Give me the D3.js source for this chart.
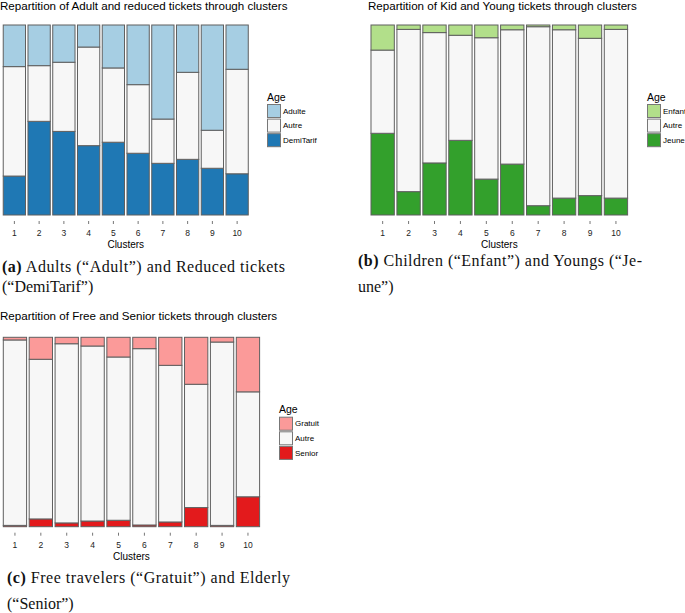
<!DOCTYPE html>
<html>
<head>
<meta charset="utf-8">
<script src="https://cdn.jsdelivr.net/npm/d3@7"></script>
<style>
  body { margin: 0; background: #fff; }
  svg { display: block; }
</style>
</head>
<body>
<svg id="chart" width="685" height="613"></svg>
<script>
(() => {

  const clusters = ["1", "2", "3", "4", "5", "6", "7", "8", "9", "10"]

  // shares (top / middle / bottom of each bar)
  const adulte    = [0.219, 0.214, 0.196, 0.116, 0.226, 0.314, 0.495, 0.249, 0.554, 0.233]
  const autreA    = [0.576, 0.293, 0.364, 0.519, 0.391, 0.361, 0.233, 0.458, 0.200, 0.550]
  const demiTarif = [0.205, 0.493, 0.440, 0.365, 0.383, 0.325, 0.272, 0.293, 0.246, 0.217]

  const enfant = [0.132, 0.023, 0.040, 0.054, 0.067, 0.025, 0.009, 0.025, 0.070, 0.023]
  const autreB = [0.438, 0.854, 0.686, 0.553, 0.744, 0.707, 0.942, 0.886, 0.828, 0.888]
  const jeune  = [0.430, 0.123, 0.274, 0.393, 0.189, 0.268, 0.049, 0.089, 0.102, 0.089]

  const gratuit = [0.014, 0.116, 0.034, 0.046, 0.104, 0.060, 0.148, 0.248, 0.025, 0.288]
  const autreC  = [0.979, 0.843, 0.946, 0.924, 0.862, 0.931, 0.827, 0.651, 0.968, 0.554]
  const senior  = [0.007, 0.041, 0.020, 0.030, 0.034, 0.009, 0.025, 0.101, 0.007, 0.158]

  const svg = d3.select('#chart')

  const panels = [
    {
      title: "Repartition of Adult and reduced tickets through clusters",
      keys: ["Adulte", "Autre", "DemiTarif"],
      values: [adulte, autreA, demiTarif],
      colors: ["#a6cee3", "#f7f7f7", "#1f78b4"],
      x0: 2.0, x1: 249.5, top: 25, bottom: 215, titleX: 0, titleY: 10,
      legX: 267, legY: 104,
      caption: [["(a)", " Adults (“Adult”) and Reduced tickets"], ["", "(“DemiTarif”)"]],
      capX: 2, capY: [272, 292], capW: 283
    },
    {
      title: "Repartition of Kid and Young tickets through clusters",
      keys: ["Enfant", "Autre", "Jeune"],
      values: [enfant, autreB, jeune],
      colors: ["#b2df8a", "#f7f7f7", "#33a02c"],
      x0: 369.7, x1: 628.9, top: 25, bottom: 215, titleX: 368, titleY: 10,
      legX: 647, legY: 104,
      caption: [["(b)", " Children (“Enfant”) and Youngs (“Je-"], ["", "une”)"]],
      capX: 358, capY: [266, 292], capW: 284
    },
    {
      title: "Repartition of Free and Senior tickets through clusters",
      keys: ["Gratuit", "Autre", "Senior"],
      values: [gratuit, autreC, senior],
      colors: ["#fb9a99", "#f7f7f7", "#e31a1c"],
      x0: 2.0, x1: 260.9, top: 337.3, bottom: 526.7, titleX: 0, titleY: 320,
      legX: 279, legY: 416.7,
      caption: [["(c)", " Free travelers (“Gratuit”) and Elderly"], ["", "(“Senior”)"]],
      capX: 7, capY: [583, 609], capW: 283
    }
  ]

  panels.forEach(p => {
    const g = svg.append("g")

    const rows = clusters.map((c, i) => {
      const row = { cluster: c }
      p.keys.forEach((k, j) => { row[k] = p.values[j][i] })
      return row
    })

    // stack from the bottom: last key sits at the bottom
    const stackKeys = p.keys.slice().reverse()
    const series = d3.stack().keys(stackKeys).offset(d3.stackOffsetExpand)(rows)
    const color = d3.scaleOrdinal().domain(p.keys).range(p.colors)

    const x = d3.scaleBand().domain(clusters).range([p.x0, p.x1])
      .paddingInner(0.1).paddingOuter(0.05)
    const y = d3.scaleLinear().domain([0, 1]).range([p.bottom, p.top])

    g.append("text")
      .attr("x", p.titleX).attr("y", p.titleY)
      .style("font", "11.6px 'Liberation Sans', Arial, sans-serif")
      .attr("fill", "#000")
      .text(p.title)

    g.append("g").selectAll("g")
      .data(series)
      .join("g")
      .attr("fill", d => color(d.key))
      .selectAll("rect")
      .data(d => d)
      .join("rect")
      .attr("x", d => x(d.data.cluster))
      .attr("y", d => y(d[1]))
      .attr("width", x.bandwidth())
      .attr("height", d => y(d[0]) - y(d[1]))
      .attr("stroke", "#5f5f5f")
      .attr("stroke-width", 1)

    const axis = g.append("g")
      .attr("transform", `translate(0,${p.bottom + 6})`)
      .call(d3.axisBottom(x).tickSize(3).tickPadding(6))
    axis.select(".domain").remove()
    axis.selectAll(".tick line").attr("stroke", "#777")
    axis.selectAll(".tick text")
      .style("font", "8.5px 'Liberation Sans', Arial, sans-serif")
      .attr("fill", "#222")

    g.append("text")
      .attr("x", (p.x0 + p.x1) / 2).attr("y", p.bottom + 33)
      .attr("text-anchor", "middle")
      .style("font", "10px 'Liberation Sans', Arial, sans-serif")
      .text("Clusters")

    // legend
    const leg = g.append("g").attr("transform", `translate(${p.legX},${p.legY})`)
    leg.append("text")
      .attr("x", 0).attr("y", -3.5)
      .style("font", "10.5px 'Liberation Sans', Arial, sans-serif")
      .text("Age")
    const item = leg.selectAll("g.item")
      .data(p.keys)
      .join("g")
      .attr("class", "item")
      .attr("transform", (d, i) => `translate(0,${i * 14.6})`)
    item.append("rect")
      .attr("x", 0.5).attr("y", 0.5)
      .attr("width", 13).attr("height", 13)
      .attr("fill", d => color(d))
      .attr("stroke", "#777")
    item.append("text")
      .attr("x", 16).attr("y", 7).attr("dy", "0.35em")
      .style("font", "8px 'Liberation Sans', Arial, sans-serif")
      .text(d => d)

    // sub-figure caption
    p.caption.forEach((line, i) => {
      const t = g.append("text")
        .attr("x", p.capX).attr("y", p.capY[i])
        .style("font", "16px 'Liberation Serif', 'DejaVu Serif', serif")
        .attr("fill", "#111")
      if (i === 0) t.attr("textLength", p.capW).attr("lengthAdjust", "spacing")
      if (line[0]) t.append("tspan").attr("font-weight", "bold").text(line[0])
      t.append("tspan").text(line[1])
    })
  })

})()
</script>
</body>
</html>
